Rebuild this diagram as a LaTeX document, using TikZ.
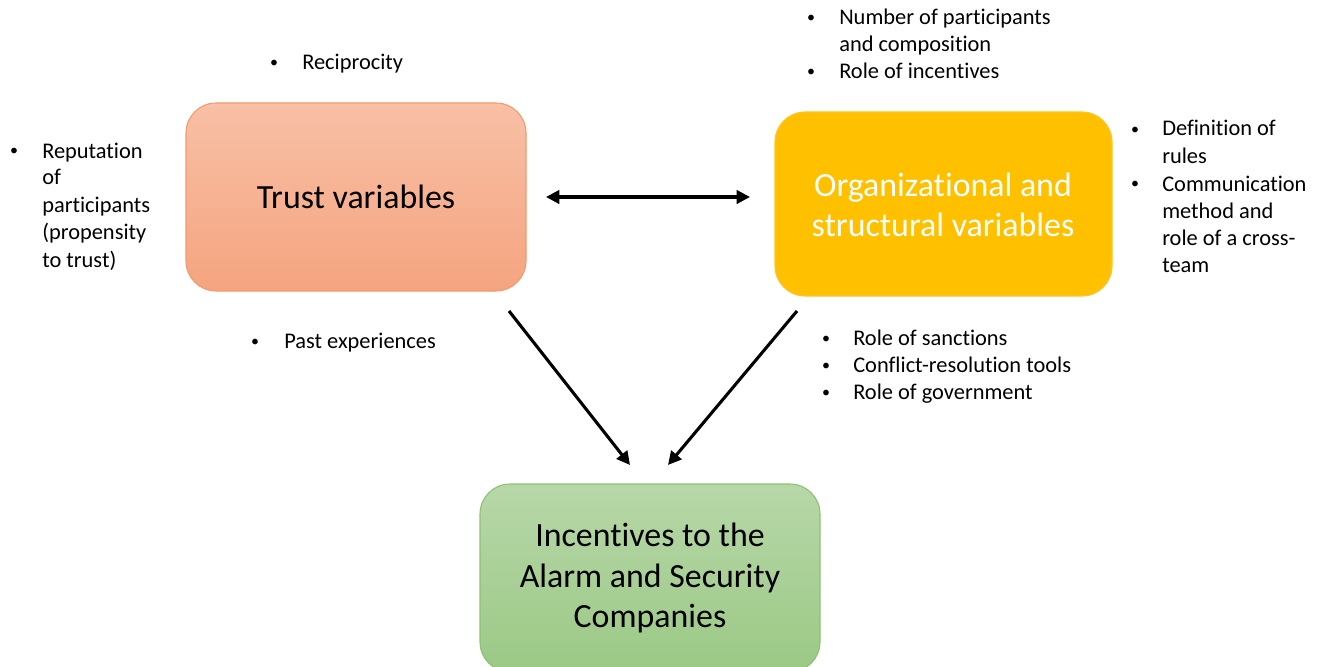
\documentclass[tikz,border=0pt]{standalone}
\usepackage{fontspec}
\setmainfont{Carlito}[Ligatures={NoCommon,NoContextual}]
\usetikzlibrary{arrows.meta}
\definecolor{trtop}{HTML}{F8C0A6}
\definecolor{trbot}{HTML}{F5A47F}
\definecolor{trbd}{HTML}{F29A6C}
\definecolor{orfill}{HTML}{FFC000}
\definecolor{orbd}{HTML}{FFC62A}
\definecolor{grtop}{HTML}{B7D7A8}
\definecolor{grbot}{HTML}{9BC985}
\definecolor{grbd}{HTML}{8DC173}
\tikzset{
  btxt/.style={anchor=base west, inner sep=0pt, font=\fontsize{16.8pt}{20.5pt}\selectfont},
  bdot/.style={anchor=base, inner sep=0pt, font=\fontsize{12pt}{14pt}\selectfont},
  title/.style={align=center, font=\fontsize{25.4pt}{30.5pt}\selectfont, inner sep=0pt},
  conn/.style={line width=2.3pt, -{Triangle[length=10pt,width=10pt]}},
  conn2/.style={line width=2.3pt, {Triangle[length=10pt,width=10pt]}-{Triangle[length=10pt,width=10pt]}}
}
\begin{document}
\begin{tikzpicture}[x=0.75pt,y=-0.75pt]
\useasboundingbox (0,0) rectangle (1322,667);
\clip (0,0) rectangle (1322,667);
% boxes
\shade[top color=trtop, bottom color=trbot, rounded corners=22.5pt] (186,103) rectangle (526,291);
\draw[trbd, line width=0.8pt, rounded corners=22.5pt] (186,103) rectangle (526,291);
\node[title] (trust) at (356,197) {Trust variables};

\fill[orfill, rounded corners=22.5pt] (775,112) rectangle (1112,296);
\draw[orbd, line width=0.8pt, rounded corners=22.5pt] (775,112) rectangle (1112,296);
\node[title, text=white] (org) at (943,205) {Organizational and\\structural variables};

\shade[top color=grtop, bottom color=grbot, rounded corners=22.5pt] (480,484) rectangle (820,672);
\draw[grbd, line width=0.8pt, rounded corners=22.5pt] (480,484) rectangle (820,672);
\node[title] (inc) at (650,578) {Incentives to the\\Alarm and Security\\Companies};

% connectors
\coordinate (a1) at (546,197);
\coordinate (a2) at (750,197);
\coordinate (l1) at (509,311);
\coordinate (l2) at (630,465);
\coordinate (r1) at (797,311);
\coordinate (r2) at (668,465);
\draw[conn2] (a1) -- (a2);
\draw[conn] (l1) -- (l2);
\draw[conn] (r1) -- (r2);

% bullets: Reciprocity
\node[bdot] (b1) at (274,68) {•};
\node[btxt] (t1) at (302,70) {Reciprocity};
% left
\node[bdot] (b2) at (14,156) {•};
\node[btxt] (t2a) at (42,158) {Reputation};
\node[btxt] (t2b) at (42,185) {of};
\node[btxt] (t2c) at (42,212) {participants};
\node[btxt] (t2d) at (42,239) {(propensity};
\node[btxt] (t2e) at (42,267) {to trust)};
% past
\node[bdot] (b3) at (255,346) {•};
\node[btxt] (t3) at (284,348) {Past experiences};
% top right
\node[bdot] (b4) at (811,23) {•};
\node[btxt] (t4a) at (839,25) {Number of participants};
\node[btxt] (t4b) at (839,52) {and composition};
\node[bdot] (b5) at (811,77) {•};
\node[btxt] (t5) at (839,79) {Role of incentives};
% right
\node[bdot] (b6) at (1135,134) {•};
\node[btxt] (t6a) at (1162,136) {Definition of};
\node[btxt] (t6b) at (1162,163) {rules};
\node[bdot] (b7) at (1135,189) {•};
\node[btxt] (t7a) at (1162,191) {Communication};
\node[btxt] (t7b) at (1162,218) {method and};
\node[btxt] (t7c) at (1162,245) {role of a cross-};
\node[btxt] (t7d) at (1162,272) {team};
% bottom right
\node[bdot] (b8) at (826,343) {•};
\node[btxt] (t8) at (853,345) {Role of sanctions};
\node[bdot] (b9) at (826,370) {•};
\node[btxt] (t9) at (853,372) {Conflict-resolution tools};
\node[bdot] (b10) at (826,397) {•};
\node[btxt] (t10) at (853,399) {Role of government};
\end{tikzpicture}
\end{document}
